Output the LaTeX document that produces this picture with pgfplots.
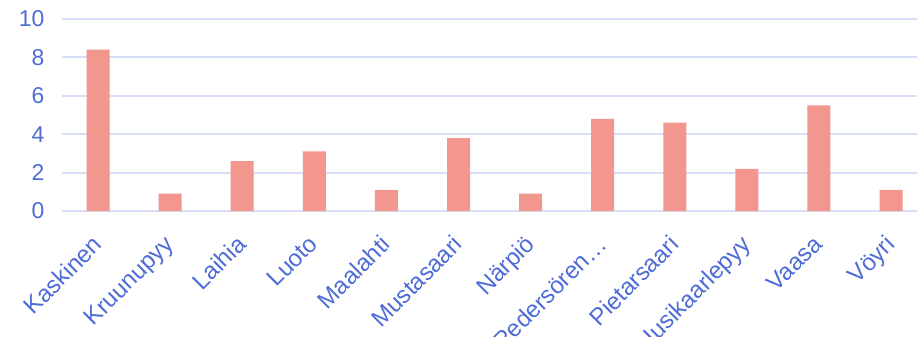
\documentclass[border=0pt]{standalone}
\usepackage{pgfplots}
\pgfplotsset{compat=1.18}
\usepackage{fontspec}
\setmainfont{Liberation Sans}
\definecolor{barc}{RGB}{242,150,142}
\definecolor{labc}{RGB}{78,108,214}
\definecolor{gridc}{RGB}{216,222,246}
\begin{document}
\begin{tikzpicture}
\begin{axis}[
  scale only axis, width=855bp, height=192bp,
  xmin=-0.5, xmax=11.36, ymin=0, ymax=10,
  ytick={0,2,...,10},
  xtick={0,...,11},
  xticklabels={Kaskinen,Kruunupyy,Laihia,Luoto,Maalahti,Mustasaari,Närpiö,Pedersören…,Pietarsaari,Uusikaarlepyy,Vaasa,Vöyri},
  x tick label style={xshift=-7bp, yshift=-18bp, rotate=45, anchor=north east, font=\fontsize{24}{27}\selectfont, text=labc},
  y tick label style={font=\fontsize{23}{26}\selectfont, text=labc, xshift=-14bp},
  /pgf/number format/assume math mode=true,
  ymajorgrids, grid style={gridc, line width=2bp},
  axis line style={draw=none},
  major tick length=0,
  ybar, bar width=23bp,
]
\addplot[fill=barc, draw=none] coordinates {
(0,8.4) (1,0.9) (2,2.6) (3,3.1) (4,1.1) (5,3.8) (6,0.9) (7,4.8) (8,4.6) (9,2.2) (10,5.5) (11,1.1)};
\coordinate (sw) at (rel axis cs:0,0);
\coordinate (ne) at (rel axis cs:1,1);
\end{axis}
\pgfresetboundingbox
\path[use as bounding box] ([shift={(-62bp,-126bp)}]sw) rectangle ([shift={(0bp,19bp)}]ne);
\end{tikzpicture}
\end{document}
